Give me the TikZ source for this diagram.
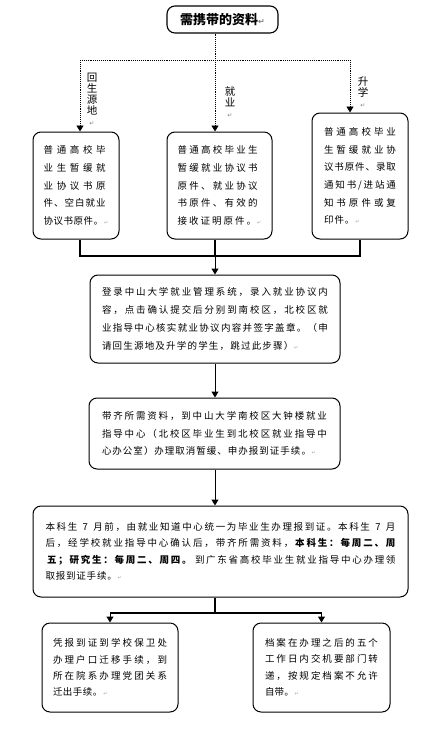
\documentclass[tikz,border=0pt]{standalone}
\usepackage{fontspec}
\setmainfont{Noto Sans CJK SC}
\newfontfamily\symf{DejaVu Sans}
\usetikzlibrary{arrows.meta}
\makeatletter
\def\sp@end{\sp@end}
\def\B{\bfseries}
\newdimen\sp@gap
% justified line: glue between all characters
\def\sp@first#1{#1\sp@loop}
\def\sp@loop#1{\ifx#1\sp@end\else\ifx#1\B\bfseries\else\hfil#1\fi\expandafter\sp@loop\fi}
\newcommand\JL[1]{\hbox to \hsize{\sp@first#1\sp@end}}
% last line: fixed gap between characters
\def\sq@first#1{#1\sq@loop}
\def\sq@loop#1{\ifx#1\sp@end\else\ifx#1\B\bfseries\else\hskip\sp@gap#1\fi\expandafter\sq@loop\fi}
\newcommand\LL[2]{\sp@gap=#1pt\relax\hbox{\sq@first#2\sp@end\parmark}}
\makeatother
\newcommand\parmark{{\symf\fontsize{5}{5}\selectfont\color{gray!70}\,↵}}
\newcommand\blk[2]{\vbox{\hsize=#1pt #2}}
\tikzset{
  box/.style={draw=black, line width=1pt, rounded corners=8pt, inner sep=0pt,
    font=\fontsize{9.5}{17.7}\selectfont},
  boxs/.style={box, font=\fontsize{9.5}{16.3}\selectfont},
  dotline/.style={densely dotted, line width=0.9pt},
  dotarrow/.style={dotline, -{Triangle[width=7pt,length=6pt]}},
  conn/.style={line width=1.4pt},
  arr/.style={line width=1pt, -{Triangle[width=7pt,length=6pt]}},
  lab/.style={inner sep=0pt, align=center, font=\fontsize{10.5}{11}\selectfont}
}
\begin{document}
\begin{tikzpicture}[x=1pt,y=-1pt]
\useasboundingbox (0,0) rectangle (441,739);
\fill[white] (0,0) rectangle (441,739);
\coordinate (cx) at (215,0);
% title
\node[box, line width=1.1pt, minimum width=111pt, minimum height=27pt, font=\fontsize{13}{15}\selectfont\bfseries]
  (title) at (222.5,19.5) {需携带的资料{\symf\fontsize{8}{8}\selectfont\color{gray}↵}};
% top boxes
\node[box, minimum width=86pt, minimum height=107pt] (b1) at (76,185.5)
 {\blk{62}{\JL{普通高校毕}\JL{业生暂缓就}\JL{业协议书原}\JL{件、空白就业}\LL{0.5}{协议书原件。}}};
\node[box, minimum width=105pt, minimum height=107pt] (b2) at (219.5,185.5)
 {\blk{80}{\JL{普通高校毕业生}\JL{暂缓就业协议书}\JL{原件、就业协议}\JL{书原件、有效的}\LL{2}{接收证明原件。}}};
\node[box, minimum width=96pt, minimum height=126pt] (b3) at (360,176)
 {\blk{72}{\JL{普通高校毕业}\JL{生暂缓就业协}\JL{议书原件、录取}\JL{通知书/进站通}\JL{知书原件或复}\LL{1}{印件。}}};
% labels
\node[lab] (l1) at (92,99) {回\\生\\源\\地\\{\symf\fontsize{6}{6}\selectfont\color{gray}↵}};
\node[lab] (l2) at (230,102) {就\\业\\{\symf\fontsize{6}{6}\selectfont\color{gray}↵}};
\node[lab] (l3) at (363,92.5) {升\\学\\{\symf\fontsize{6}{6}\selectfont\color{gray}↵}};
% middle boxes
\node[box, minimum width=250pt, minimum height=88pt] (b4) at (215,319)
 {\blk{226}{\JL{登录中山大学就业管理系统，录入就业协议内}\JL{容，点击确认提交后分别到南校区，北校区就}\JL{业指导中心核实就业协议内容并签字盖章。（申}\LL{1.2}{请回生源地及升学的学生，跳过此步骤）}}};
\node[box, minimum width=251pt, minimum height=71pt] (b5) at (214.5,433.5)
 {\blk{225}{\JL{带齐所需资料，到中山大学南校区大钟楼就业}\JL{指导中心（北校区毕业生到北校区就业指导中}\LL{1}{心办公室）办理取消暂缓、申办报到证手续。}}};
\node[boxs, minimum width=375pt, minimum height=91pt] (b6) at (220.5,551.5)
 {\blk{350}{\JL{本科生~7~月前，由就业知道中心统一为毕业生办理报到证。本科生~7~月}\JL{后，经学校就业指导中心确认后，带齐所需资料，\B 本科生：每周二、周}\JL{\B 五；研究生：每周二、周四。\mdseries 到广东省高校毕业生就业指导中心办理领}\LL{0.8}{取报到证手续。}}};
\node[boxs, minimum width=136pt, minimum height=89pt] (b7) at (110,667.5)
 {\blk{114}{\JL{凭报到证到学校保卫处}\JL{办理户口迁移手续，到}\JL{所在院系办理党团关系}\LL{0.5}{迁出手续。}}};
\node[boxs, minimum width=137pt, minimum height=89pt] (b8) at (321.5,667.5)
 {\blk{113}{\JL{档案在办理之后的五个}\JL{工作日内交机要部门转}\JL{递，按规定档案不允许}\LL{0.2}{自带。}}};
% dotted connectors
\coordinate (dL) at (80,60);
\coordinate (dR) at (350,60);
\draw[dotarrow] (title.south -| cx) -- (b2.north -| cx);
\draw[dotline] (dL) -- (dR);
\draw[dotarrow] (dL) -- (b1.north -| dL);
\draw[dotarrow] (dR) -- (b3.north -| dR);
% solid connectors to b4
\coordinate (hL) at (80,256);
\coordinate (hR) at (360,256);
\coordinate (hM) at (215,256);
\draw[conn] (b1.south -| hL) -- (hL) -- (hR) -- (b3.south -| hR);
\draw[conn] (b2.south -| hM) -- (hM);
\draw[arr] (hM) -- (b4.north -| hM);
\draw[arr] (b4.south -| cx) -- (b5.north -| cx);
\draw[arr] (b5.south -| cx) -- (b6.north -| cx);
% bottom split
\coordinate (sM) at (215,613);
\coordinate (sL) at (110,613);
\coordinate (sR) at (321.5,613);
\draw[conn] (b6.south -| cx) -- (sM);
\draw[conn] (sL) -- (sR);
\draw[arr] (sL) -- (b7.north);
\draw[arr] (sR) -- (b8.north);
\end{tikzpicture}
\end{document}
